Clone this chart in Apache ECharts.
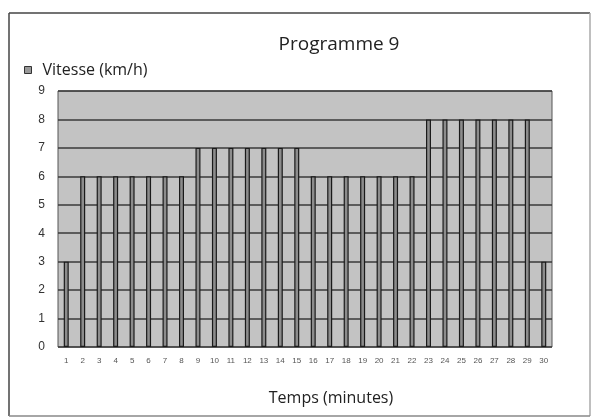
<!DOCTYPE html>
<html><head><meta charset="utf-8">
<script src="https://cdn.jsdelivr.net/npm/echarts@6/dist/echarts.min.js"></script>
<style>html,body{margin:0;padding:0;background:#fff}#c{width:596px;height:418px}</style>
</head><body><div id="c"></div>
<script>
const categories = ['1','2','3','4','5','6','7','8','9','10','11','12','13','14','15','16','17','18','19','20','21','22','23','24','25','26','27','28','29','30'];
const vitesse = [3,6,6,6,6,6,6,6,7,7,7,7,7,7,7,6,6,6,6,6,6,6,8,8,8,8,8,8,8,3];
const yTicks = [0,1,2,3,4,5,6,7,8,9];
const chart = echarts.init(document.getElementById('c'), null, {renderer:'canvas'});
chart.setOption({
  animation:false,
  backgroundColor:'#fff',
  title:{text:'Programme 9', left:334, top:30, textAlign:'center',
    textStyle:{fontFamily:'Open Sans', fontSize:19, fontWeight:'normal', color:'#222'}},
  legend:{left:19, top:57, itemWidth:7, itemHeight:7, itemGap:6,
    icon:'rect',
    textStyle:{fontFamily:'Open Sans', fontSize:16, color:'#222', padding:[0,0,0,6]},
    data:[{name:'Vitesse (km/h)', itemStyle:{color:'#999', borderColor:'#333', borderWidth:1}}]},
  grid:{left:58, top:91, right:44, bottom:71, show:true, backgroundColor:'#c3c3c3', borderColor:'#555', borderWidth:1},
  graphic:[
    {type:'line', shape:{x1:9,y1:13,x2:590,y2:13}, style:{stroke:'#444', lineWidth:1.5}},
    {type:'line', shape:{x1:9,y1:13,x2:9,y2:416}, style:{stroke:'#444', lineWidth:1.5}},
    {type:'line', shape:{x1:590,y1:13,x2:590,y2:416}, style:{stroke:'#aaa', lineWidth:1.5}},
    {type:'line', shape:{x1:9,y1:416,x2:590,y2:416}, style:{stroke:'#888', lineWidth:1.5}}
  ],
  xAxis:{type:'category', data:categories,
    name:'Temps (minutes)', nameLocation:'middle', nameGap:43,
    nameTextStyle:{fontFamily:'Open Sans', fontSize:16, color:'#222', padding:[0,0,0,52]},
    axisLine:{show:false}, axisTick:{show:false},
    axisLabel:{interval:0, fontSize:8, color:'#555', fontFamily:'Liberation Sans', margin:10}},
  yAxis:{type:'value', min:0, max:9, interval:1,
    axisLine:{show:false}, axisTick:{show:false},
    axisLabel:{fontSize:12, color:'#333', fontFamily:'Liberation Sans', margin:13,
      formatter:v=> yTicks.includes(v)? String(v):''},
    splitLine:{show:true, lineStyle:{color:'#3a3a3a', width:1.5}}},
  series:[{name:'Vitesse (km/h)', type:'bar', data:vitesse, barWidth:5,
    itemStyle:{color:'#8c8c8c', borderColor:'#1a1a1a', borderWidth:1.2}}]
});
</script></body></html>
